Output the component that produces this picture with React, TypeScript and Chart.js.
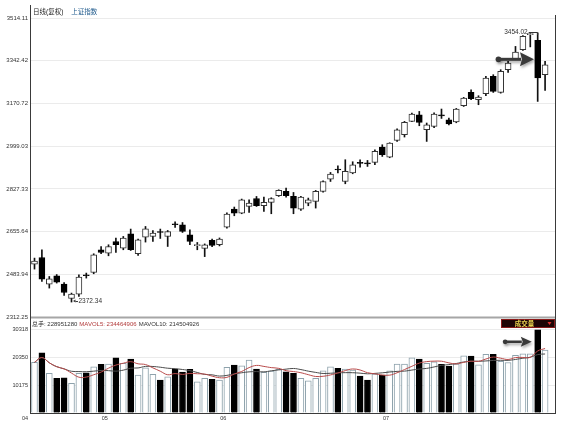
import React, { useEffect, useRef } from 'react';
import { Chart, registerables } from 'chart.js';

Chart.register(...registerables);

// ---------------- data ----------------
const opens = [
  2525, 2551.5, 2444.5, 2478, 2444.5, 2386.6, 2404.3, 2480, 2491.2, 2582.5,
  2569.2, 2615.8, 2589.3, 2646.8, 2566.4, 2633.5, 2636, 2654, 2636, 2684,
  2683, 2642.8, 2599, 2588, 2620, 2603, 2673.7, 2746.1, 2730, 2756.6,
  2788.7, 2759.4, 2772.7, 2799.6, 2816.9, 2796.8, 2746.1, 2770.2, 2776.7, 2816.9,
  2866.7, 2905, 2857, 2890.9, 2932, 2930, 2933.5, 2995.4, 2955.2, 3021.9,
  3044.9, 3098.4, 3125.3, 3065, 3078.3, 3123, 3105, 3096, 3161.4, 3214.9,
  3185.7, 3209.7, 3279.3, 3214.9, 3306.2, 3350.5, 3386.7, 3447, 3424, 3286.1,
];
const highs = [
  2549, 2582.5, 2475.1, 2483, 2451, 2408.4, 2481.9, 2488.8, 2566.4, 2595.7,
  2602.6, 2629.5, 2636, 2665.7, 2625.5, 2676.2, 2660, 2665.7, 2660, 2695,
  2692, 2662.9, 2611.8, 2606, 2625, 2630, 2731, 2754.2, 2786.3, 2783.5,
  2796.8, 2794.4, 2791.5, 2823.7, 2830.6, 2812.9, 2796.8, 2790.3, 2821, 2860,
  2893.3, 2920.2, 2944.4, 2936.3, 2944.4, 2941.6, 2984.6, 3004.7, 3012.7, 3069,
  3098.4, 3132.2, 3138.6, 3092, 3133.4, 3148.2, 3112, 3150.6, 3195, 3225.8,
  3201.7, 3279.3, 3286.2, 3306.2, 3339.7, 3399.9, 3443, 3452, 3454.02, 3339.7,
];
const lows = [
  2504.8, 2455, 2428.5, 2448.6, 2398.7, 2372.34, 2394.7, 2468.7, 2486, 2566.4,
  2558.3, 2571.6, 2582.5, 2579.6, 2559.5, 2613.4, 2616, 2628, 2595.7, 2672,
  2652, 2602.6, 2582.5, 2555, 2595, 2598, 2669.7, 2719.2, 2727.3, 2732.4,
  2756.6, 2736.5, 2727.3, 2796.8, 2794.4, 2727.3, 2740.5, 2759.4, 2750.1, 2813.6,
  2857, 2890.9, 2847.8, 2888, 2915, 2917.4, 2924.2, 2957.6, 2952.4, 3018,
  3035.6, 3097, 3081, 3018, 3073, 3110.4, 3084, 3093, 3158.6, 3185.7,
  3165.5, 3201.7, 3214.9, 3212, 3295.3, 3346.4, 3383.8, 3398, 3178.8, 3223,
];
const closes = [
  2537, 2464.6, 2465.9, 2452.6, 2410.8, 2404.3, 2472.7, 2478, 2562.4, 2571.6,
  2595.7, 2602.6, 2629.5, 2582.5, 2622.7, 2667, 2649.6, 2652, 2656, 2683,
  2656, 2615.8, 2601, 2602, 2600, 2625, 2726, 2730, 2783.5, 2770.2,
  2759.4, 2772.7, 2788.7, 2821, 2799.6, 2750.1, 2794.4, 2783.5, 2816.9, 2857,
  2886.8, 2903, 2897.3, 2924.2, 2930, 2928, 2977.7, 2964.5, 3011.5, 3065,
  3094.3, 3128.1, 3094.3, 3085, 3128.1, 3121, 3087.9, 3148.2, 3192.4, 3189.7,
  3196.5, 3272.9, 3219, 3299.4, 3333.2, 3377.4, 3440.1, 3449, 3272.9, 3326.3,
];
// volume, in 10,000 lots
const volumes = [
  18425, 21913, 14427, 12610, 12828, 10793, 14427, 14645, 16825, 17698,
  17807, 20096, 18061, 19624, 13809, 16462, 14064, 11992, 13191, 15990,
  14899, 15881, 11374, 12610, 12247, 11992, 16607, 17443, 17189, 19260,
  15990, 14790, 15263, 15881, 15008, 14427, 12610, 11738, 12610, 15372,
  16825, 16244, 15990, 15626, 13446, 11992, 14173, 13809, 15372, 17807,
  17807, 20096, 19624, 18061, 18642, 17698, 17080, 17807, 20823, 20714,
  17500, 21300, 21300, 18800, 18372, 21000, 21500, 21520, 30318, 22895,
];

const priceTicks = [2312.25, 2483.94, 2655.64, 2827.33, 2999.03, 3170.72, 3342.42, 3514.11];
const volumeTicks = [0, 10175, 20350, 30318];
const monthLabels = ['04', '05', '06', '07'];
const monthStarts = [0, 10, 26, 48];

const titleMain = '日线(复权)';
const titleIndex = '上证指数';
const volHeaderTexts = ['总手: 228951280', 'MAVOL5: 234464906', 'MAVOL10: 214504926'];
const volBoxLabel = '成交量';

// annotation anchors (data units)
const priceArrow = { from: 62.7, to: 67.5, price: 3348 };
const volumeArrow = { from: 63.6, to: 67.2, vol: 25900 };

// ---------------- styling ----------------
const FONT = '"Liberation Sans", "Noto Sans CJK SC", Arial, sans-serif';
const X_MIN = -0.473;
const X_MAX = 70.34;
const idx = opens.map((_, i) => i);
const isDown = idx.map((i) => closes[i] < opens[i]);

function movingAvg(n: number) {
  return volumes.map((_, i) => {
    const s = volumes.slice(Math.max(0, i - n + 1), i + 1);
    return { x: i, y: s.reduce((a, b) => a + b, 0) / s.length };
  });
}

function drawArrow(ctx: CanvasRenderingContext2D, x0: number, x1: number, y: number, headLen: number, headHalf: number, shaft: number) {
  ctx.save();
  ctx.fillStyle = '#3a3a3a';
  ctx.shadowColor = 'rgba(0,0,0,0.35)';
  ctx.shadowBlur = 3;
  ctx.shadowOffsetX = 1;
  ctx.shadowOffsetY = 2;
  ctx.beginPath();
  ctx.arc(x0, y, shaft * 0.95, 0, Math.PI * 2);
  ctx.fill();
  ctx.fillRect(x0, y - shaft / 2, x1 - headLen - x0 + 1, shaft);
  ctx.beginPath();
  ctx.moveTo(x1, y);
  ctx.lineTo(x1 - headLen, y - headHalf);
  ctx.lineTo(x1 - headLen + 2, y);
  ctx.lineTo(x1 - headLen, y + headHalf);
  ctx.closePath();
  ctx.fill();
  ctx.restore();
}

const priceDecor = {
  id: 'priceDecor',
  afterDraw(chart: any) {
    const { ctx, chartArea, scales } = chart;
    const xs = scales.x;
    const ys = scales.y;
    ctx.save();
    ctx.strokeStyle = '#3a3a3a';
    ctx.lineWidth = 1;
    ctx.beginPath();
    ctx.moveTo(chartArea.left - 0.5, 5);
    ctx.lineTo(chartArea.left - 0.5, chart.height);
    ctx.moveTo(chartArea.right + 0.5, 15);
    ctx.lineTo(chartArea.right + 0.5, chart.height);
    ctx.stroke();

    ctx.textBaseline = 'middle';
    ctx.textAlign = 'left';
    ctx.font = `6.5px ${FONT}`;
    ctx.fillStyle = '#222';
    ctx.fillText(titleMain, chartArea.left + 2, 12);
    const w = ctx.measureText(titleMain).width;
    ctx.fillStyle = '#1f5a8c';
    ctx.fillText(titleIndex, chartArea.left + 2 + w + 8, 12);

    let lo = 0;
    let hi = 0;
    idx.forEach((i) => {
      if (lows[i] < lows[lo]) lo = i;
      if (highs[i] > highs[hi]) hi = i;
    });
    ctx.fillStyle = '#333';
    ctx.strokeStyle = '#333';
    const lx = xs.getPixelForValue(lo);
    const ly = ys.getPixelForValue(lows[lo]) - 1;
    ctx.beginPath();
    ctx.moveTo(lx + 1.5, ly);
    ctx.lineTo(lx + 4, ly - 1.5);
    ctx.lineTo(lx + 4, ly + 1.5);
    ctx.closePath();
    ctx.fill();
    ctx.beginPath();
    ctx.moveTo(lx + 4, ly + 0.5);
    ctx.lineTo(lx + 6.5, ly + 0.5);
    ctx.stroke();
    ctx.font = `6.5px ${FONT}`;
    ctx.fillText(lows[lo].toFixed(2), lx + 7, ly);

    const hx = xs.getPixelForValue(hi);
    const hy = ys.getPixelForValue(highs[hi]) - 0.5;
    ctx.textAlign = 'right';
    ctx.fillText(highs[hi].toFixed(2), hx - 10, hy);
    ctx.beginPath();
    ctx.moveTo(hx - 9, Math.round(hy) + 0.5);
    ctx.lineTo(hx, Math.round(hy) + 0.5);
    ctx.lineTo(hx, Math.round(hy) + 3);
    ctx.stroke();

    drawArrow(
      ctx,
      xs.getPixelForValue(priceArrow.from),
      xs.getPixelForValue(priceArrow.to),
      ys.getPixelForValue(priceArrow.price),
      14, 7, 3,
    );
    ctx.restore();
  },
};

const volumeDecor = {
  id: 'volumeDecor',
  afterDraw(chart: any) {
    const { ctx, chartArea, scales } = chart;
    const xs = scales.x;
    const ys = scales.y;
    ctx.save();
    ctx.strokeStyle = '#a6a6a6';
    ctx.lineWidth = 2;
    ctx.beginPath();
    ctx.moveTo(chartArea.left - 1, 1.5);
    ctx.lineTo(chartArea.right + 1, 1.5);
    ctx.stroke();
    ctx.strokeStyle = '#3a3a3a';
    ctx.lineWidth = 1;
    ctx.beginPath();
    ctx.moveTo(chartArea.left - 0.5, 0);
    ctx.lineTo(chartArea.left - 0.5, chartArea.bottom + 1);
    ctx.moveTo(chartArea.right + 0.5, 0);
    ctx.lineTo(chartArea.right + 0.5, chartArea.bottom + 1);
    ctx.moveTo(chartArea.left - 1, chartArea.bottom + 0.5);
    ctx.lineTo(chartArea.right + 1, chartArea.bottom + 0.5);
    ctx.stroke();

    ctx.textBaseline = 'middle';
    ctx.textAlign = 'left';
    ctx.font = `6px ${FONT}`;
    const colors = ['#333', '#b23a3a', '#333'];
    let x = chartArea.left + 1;
    volHeaderTexts.forEach((t, k) => {
      ctx.fillStyle = colors[k];
      ctx.fillText(t, x, 8);
      x += ctx.measureText(t).width + 2;
    });

    const bw = 54;
    const bx = chartArea.right - bw;
    ctx.fillStyle = '#1e0505';
    ctx.fillRect(bx, 3, bw, 9);
    ctx.strokeStyle = '#8a1a1a';
    ctx.strokeRect(bx + 0.5, 3.5, bw - 1, 8);
    ctx.fillStyle = '#e6cf4c';
    ctx.font = `bold 6.5px ${FONT}`;
    ctx.textAlign = 'center';
    ctx.fillText(volBoxLabel, bx + 23.5, 7.8);
    ctx.fillStyle = '#e03030';
    ctx.beginPath();
    ctx.moveTo(bx + 46.5, 6);
    ctx.lineTo(bx + 50.5, 6);
    ctx.lineTo(bx + 48.5, 9);
    ctx.closePath();
    ctx.fill();

    drawArrow(
      ctx,
      xs.getPixelForValue(volumeArrow.from),
      xs.getPixelForValue(volumeArrow.to),
      ys.getPixelForValue(volumeArrow.vol),
      11, 5, 2.5,
    );
    ctx.restore();
  },
};

export default function App() {
  const priceRef = useRef<HTMLCanvasElement | null>(null);
  const volRef = useRef<HTMLCanvasElement | null>(null);

  useEffect(() => {
    const pc = new Chart(priceRef.current as HTMLCanvasElement, {
      type: 'bar',
      data: {
        datasets: [
          {
            label: 'body',
            data: idx.map((i) => ({ x: i, y: [Math.min(opens[i], closes[i]), Math.max(opens[i], closes[i])] })) as any,
            backgroundColor: idx.map((i) => (isDown[i] ? '#000' : '#fff')),
            borderColor: idx.map((i) => (isDown[i] ? '#000' : '#333')),
            borderWidth: 1,
            borderSkipped: false,
            barThickness: 6,
            minBarLength: 1,
            grouped: false,
            order: 0,
          } as any,
          {
            label: 'wick',
            data: idx.map((i) => ({ x: i, y: [lows[i], highs[i]] })) as any,
            backgroundColor: '#111',
            borderWidth: 0,
            barThickness: 1,
            grouped: false,
            order: 1,
          } as any,
        ],
      },
      options: {
        responsive: false,
        animation: false,
        devicePixelRatio: 1,
        events: [],
        layout: { padding: { left: 0, right: 11, top: 18, bottom: 5 } },
        plugins: { legend: { display: false }, tooltip: { enabled: false } },
        scales: {
          x: { type: 'linear', min: X_MIN, max: X_MAX, offset: false, display: false },
          y: {
            min: priceTicks[0],
            max: priceTicks[priceTicks.length - 1],
            afterBuildTicks: (s: any) => { s.ticks = priceTicks.map((v) => ({ value: v })); },
            afterFit: (s: any) => { s.width = 31; s.paddingTop = 0; s.paddingBottom = 0; },
            ticks: {
              callback: (v: any) => Number(v).toFixed(2),
              font: { family: FONT, size: 6 },
              color: '#333',
              padding: 3,
            },
            grid: { color: '#ebebeb', drawTicks: false },
            border: { display: false },
          },
        },
      } as any,
      plugins: [priceDecor],
    });

    const monthTickValues = monthStarts.map((s, k) => (k === 0 ? X_MIN - 0.8 : s - 0.5));

    const vc = new Chart(volRef.current as HTMLCanvasElement, {
      type: 'bar',
      data: {
        datasets: [
          {
            type: 'line',
            label: 'MAVOL5',
            data: movingAvg(5),
            borderColor: '#b84a4a',
            borderWidth: 1,
            pointRadius: 0,
            tension: 0.4,
            order: 0,
          } as any,
          {
            type: 'line',
            label: 'MAVOL10',
            data: movingAvg(10),
            borderColor: '#4a4a4a',
            borderWidth: 1,
            pointRadius: 0,
            tension: 0.4,
            order: 1,
          } as any,
          {
            type: 'bar',
            label: 'volume',
            data: idx.map((i) => ({ x: i, y: volumes[i] })),
            backgroundColor: idx.map((i) => (isDown[i] ? '#000' : '#fff')),
            borderColor: idx.map((i) => (isDown[i] ? '#000' : '#8ea2ac')),
            borderWidth: 1,
            barThickness: 6,
            grouped: false,
            order: 2,
          } as any,
        ],
      },
      options: {
        responsive: false,
        animation: false,
        devicePixelRatio: 1,
        events: [],
        layout: { padding: { left: 0, right: 11, top: 13.6, bottom: 0 } },
        plugins: { legend: { display: false }, tooltip: { enabled: false } },
        scales: {
          x: {
            type: 'linear',
            min: X_MIN,
            max: X_MAX,
            offset: false,
            afterBuildTicks: (s: any) => { s.ticks = monthTickValues.map((v) => ({ value: v })); },
            afterFit: (s: any) => { s.height = 10; s.paddingLeft = 0; s.paddingRight = 0; },
            ticks: {
              autoSkip: false,
              maxRotation: 0,
              callback: (_v: any, i: number) => monthLabels[i],
              font: { family: FONT, size: 5.5 },
              color: '#333',
              padding: 2,
            },
            grid: { display: false, drawTicks: false, offset: false },
            border: { display: false },
          },
          y: {
            min: 0,
            max: volumeTicks[volumeTicks.length - 1],
            afterBuildTicks: (s: any) => { s.ticks = volumeTicks.map((v) => ({ value: v })); },
            afterFit: (s: any) => { s.width = 31; s.paddingTop = 0; s.paddingBottom = 0; },
            ticks: {
              callback: (v: any) => (Number(v) === 0 ? '' : String(v)),
              font: { family: FONT, size: 5.6 },
              color: '#333',
              padding: 3,
            },
            grid: { color: '#ebebeb', drawTicks: false },
            border: { display: false },
          },
        },
      } as any,
      plugins: [volumeDecor],
    });

    return () => {
      pc.destroy();
      vc.destroy();
    };
  }, []);

  return (
    <div style={{ position: 'fixed', left: 0, top: 0, width: 566, height: 423, background: '#fff', overflow: 'hidden' }}>
      <canvas ref={priceRef} width={566} height={322} style={{ position: 'absolute', left: 0, top: 0 }} />
      <canvas ref={volRef} width={566} height={107} style={{ position: 'absolute', left: 0, top: 316 }} />
    </div>
  );
}
